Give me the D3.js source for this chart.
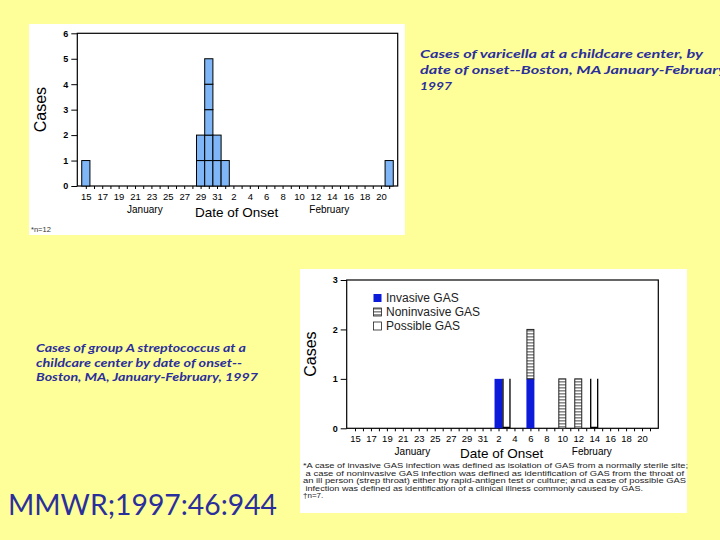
<!DOCTYPE html>
<html>
<head>
<meta charset="utf-8">
<script src="https://cdn.jsdelivr.net/npm/d3@7"></script>
<style>
  body { margin: 0; background: #ffff99; }
  svg { display: block; }
</style>
</head>
<body>
<svg id="slide" width="720" height="540"></svg>
<script>
// ---- data ----
const tickDates = ["Jan 15", "Jan 17", "Jan 19", "Jan 21", "Jan 23", "Jan 25", "Jan 27", "Jan 29", "Jan 31",
                   "Feb 2", "Feb 4", "Feb 6", "Feb 8", "Feb 10", "Feb 12", "Feb 14", "Feb 16", "Feb 18", "Feb 20"];
const monthNames = ["January", "February"];

const varicellaDates = ["Jan 15", "Jan 29", "Jan 30", "Jan 31", "Feb 1", "Feb 21"];
const varicellaCases = [1, 2, 5, 2, 1, 1];

const gasDates = ["Feb 2", "Feb 3", "Feb 6", "Feb 10", "Feb 12", "Feb 14"];
const gasInvasive = [1, 0, 1, 0, 0, 0];
const gasNoninvasive = [0, 0, 1, 1, 1, 0];
const gasPossible = [0, 1, 0, 0, 0, 1];
const gasKeys = ["Invasive GAS", "Noninvasive GAS", "Possible GAS"];

const title1 = ["Cases of varicella at a childcare center, by", "date of onset--Boston, MA  January-February", "1997"];
const title2 = ["Cases of group A streptococcus at a", "childcare center by date of onset--", "Boston, MA, January-February, 1997"];
const footnote = [
  "*A case of invasive GAS infection was defined as isolation of GAS from a normally sterile site;",
  " a case of noninvasive GAS infection was defined as identification of GAS from the throat of",
  "an ill person (strep throat) either by rapid-antigen test or culture; and a case of possible GAS",
  " infection was defined as identification of a clinical illness commonly caused by GAS.",
  "\u2020n=7."
];

const parse = d3.timeParse("%b %d %Y");
const start = parse("Jan 15 1997");
const dayIndex = s => d3.timeDay.count(start, parse(s + " 1997"));

const svg = d3.select("#slide");
const font = "'Liberation Sans', Arial, sans-serif";
const titleFont = "Lato, 'DejaVu Sans', sans-serif";
const navy = "#2b2f9c";

const defs = svg.append("defs");
const stripes = defs.append("pattern")
  .attr("id", "stripes").attr("patternUnits", "userSpaceOnUse")
  .attr("width", 4).attr("height", 3);
stripes.append("rect").attr("width", 4).attr("height", 3).attr("fill", "#fff");
stripes.append("rect").attr("width", 4).attr("height", 1.6).attr("fill", "#8c8c8c");

// white panels
svg.append("rect").attr("x", 29).attr("y", 24).attr("width", 376).attr("height", 211).attr("fill", "#fff");
svg.append("rect").attr("x", 300).attr("y", 269).attr("width", 387).attr("height", 244).attr("fill", "#fff");

// ---- shared axes frame ----
function drawFrame(m, yMax, labelY) {
  const g = svg.append("g");
  const x = d3.scaleLinear().domain([-1.04, 38.04]).range([m.left, m.right]);
  const y = d3.scaleLinear().domain([0, yMax]).range([m.bottom, m.top]);

  g.append("rect")
    .attr("x", m.left).attr("y", m.top)
    .attr("width", m.right - m.left).attr("height", m.bottom - m.top)
    .attr("fill", "none").attr("stroke", "#000").attr("stroke-width", 1.2);

  const yAxis = g.append("g")
    .attr("transform", `translate(${m.left},0)`)
    .call(d3.axisLeft(y).ticks(yMax).tickSize(6).tickSizeOuter(0).tickPadding(3));
  yAxis.select(".domain").remove();
  yAxis.selectAll("text").attr("font-family", font).attr("font-size", 9).attr("font-weight", "bold");

  const tickIdx = tickDates.map(dayIndex);
  const xAxis = g.append("g")
    .attr("transform", `translate(0,${m.bottom})`)
    .call(d3.axisBottom(x).tickValues(d3.range(0, 38)).tickSize(3).tickSizeOuter(0).tickPadding(4)
      .tickFormat(i => {
        const k = tickIdx.indexOf(i);
        return k < 0 ? "" : tickDates[k].split(" ")[1];
      }));
  xAxis.select(".domain").remove();
  xAxis.selectAll("text").attr("font-family", font).attr("font-size", 9.5);

  g.append("text")
    .attr("transform", `translate(${m.ylab},${(m.top + m.bottom) / 2}) rotate(-90)`)
    .attr("text-anchor", "middle").attr("dy", "0.35em")
    .attr("font-family", font).attr("font-size", 16).text("Cases");

  g.append("text")
    .attr("x", x(7.2)).attr("y", labelY.month)
    .attr("text-anchor", "middle").attr("font-family", font).attr("font-size", 10)
    .text(monthNames[0]);
  g.append("text")
    .attr("x", x(29.7)).attr("y", labelY.month)
    .attr("text-anchor", "middle").attr("font-family", font).attr("font-size", 10)
    .text(monthNames[1]);
  g.append("text")
    .attr("x", x(18.4)).attr("y", labelY.title)
    .attr("text-anchor", "middle").attr("font-family", font).attr("font-size", 13.5)
    .text("Date of Onset");

  return { g, x, y };
}

// ---- chart 1: varicella ----
const c1 = drawFrame({ left: 77.3, right: 397.7, top: 33.3, bottom: 186, ylab: 40 }, 6, { month: 213, title: 217 });
const boxes1 = varicellaDates.flatMap((d, i) =>
  d3.range(varicellaCases[i]).map(k => ({ idx: dayIndex(d), k })));
c1.g.append("g").selectAll("rect")
  .data(boxes1)
  .join("rect")
    .attr("x", d => c1.x(d.idx - 0.5))
    .attr("width", d => c1.x(d.idx + 0.5) - c1.x(d.idx - 0.5))
    .attr("y", d => c1.y(d.k + 1))
    .attr("height", d => c1.y(d.k) - c1.y(d.k + 1))
    .attr("fill", "#7fb6f7")
    .attr("stroke", "#000").attr("stroke-width", 1);
svg.append("text").attr("x", 31).attr("y", 232)
  .attr("font-family", font).attr("font-size", 7.5).attr("fill", "#333").text("*n=12");

// ---- chart 2: group A strep ----
const c2 = drawFrame({ left: 346.7, right: 658.3, top: 280, bottom: 428.3, ylab: 310 }, 3, { month: 455, title: 458 });
const rows = gasDates.map((d, i) => ({
  idx: dayIndex(d),
  "Invasive GAS": gasInvasive[i],
  "Noninvasive GAS": gasNoninvasive[i],
  "Possible GAS": gasPossible[i]
}));
const series = d3.stack().keys(gasKeys)(rows);

const barX = idx => c2.x(idx - 0.5);
const barW = idx => c2.x(idx + 0.5) - c2.x(idx - 0.5);

c2.g.append("g").selectAll("rect")
  .data(series[0].filter(s => s[1] > s[0]))
  .join("rect")
    .attr("x", d => barX(d.data.idx)).attr("width", d => barW(d.data.idx))
    .attr("y", d => c2.y(d[1])).attr("height", d => c2.y(d[0]) - c2.y(d[1]))
    .attr("fill", "#0b1bd9");

c2.g.append("g").selectAll("rect")
  .data(series[1].filter(s => s[1] > s[0]))
  .join("rect")
    .attr("x", d => barX(d.data.idx) + 0.5).attr("width", d => barW(d.data.idx) - 1)
    .attr("y", d => c2.y(d[1])).attr("height", d => c2.y(d[0]) - c2.y(d[1]))
    .attr("fill", "url(#stripes)").attr("stroke", "#222").attr("stroke-width", 1);

c2.g.append("g").selectAll("path")
  .data(series[2].filter(s => s[1] > s[0]))
  .join("path")
    .attr("d", d => {
      const x0 = barX(d.data.idx) + 0.5, x1 = x0 + barW(d.data.idx) - 1;
      const yt = c2.y(d[1]), yb = c2.y(d[0]) - 1;
      return `M${x0},${yt}V${yb}H${x1}V${yt}`;
    })
    .attr("fill", "#fff").attr("stroke", "#000").attr("stroke-width", 1.3);

// legend
const legend = svg.append("g").attr("transform", "translate(373.5,294)");
const item = legend.selectAll("g").data(gasKeys).join("g")
  .attr("transform", (d, i) => `translate(0,${i * 14})`);
item.append("rect")
  .attr("width", 8).attr("height", 8)
  .attr("fill", (d, i) => ["#0b1bd9", "url(#stripes)", "#fff"][i])
  .attr("stroke", (d, i) => i === 0 ? "none" : "#222").attr("stroke-width", 0.8);
item.append("text")
  .attr("x", 12.5).attr("y", 7.8)
  .attr("font-family", font).attr("font-size", 12).attr("fill", "#222")
  .text(d => d);

// footnote
const footW = [385, 381, 383, 340, 0];
svg.append("g").selectAll("text")
  .data(footnote)
  .join("text")
    .attr("x", 303).attr("y", (d, i) => 468 + i * 7.5)
    .attr("font-family", font).attr("font-size", 8).attr("fill", "#222")
    .attr("xml:space", "preserve")
    .each(function (d, i) {
      if (footW[i]) d3.select(this).attr("textLength", footW[i]).attr("lengthAdjust", "spacingAndGlyphs");
    })
    .text(d => d);

// ---- slide titles ----
const t1w = [283, 306, 32];
svg.append("g").selectAll("text")
  .data(title1)
  .join("text")
    .attr("x", 420).attr("y", (d, i) => 58 + i * 16)
    .attr("font-family", titleFont).attr("font-size", 12).attr("font-weight", "bold")
    .attr("font-style", "italic").attr("fill", navy)
    .attr("textLength", (d, i) => t1w[i]).attr("lengthAdjust", "spacingAndGlyphs")
    .text(d => d);

const t2w = [210, 206, 222];
svg.append("g").selectAll("text")
  .data(title2)
  .join("text")
    .attr("x", 36).attr("y", (d, i) => 352 + i * 14.5)
    .attr("font-family", titleFont).attr("font-size", 11.5).attr("font-weight", "bold")
    .attr("font-style", "italic").attr("fill", navy)
    .attr("textLength", (d, i) => t2w[i]).attr("lengthAdjust", "spacingAndGlyphs")
    .text(d => d);

svg.append("text")
  .attr("x", 8).attr("y", 515)
  .attr("font-family", titleFont).attr("font-size", 28).attr("fill", navy)
  .attr("textLength", 269).attr("lengthAdjust", "spacingAndGlyphs")
  .text("MMWR;1997:46:944");
</script>
</body>
</html>
